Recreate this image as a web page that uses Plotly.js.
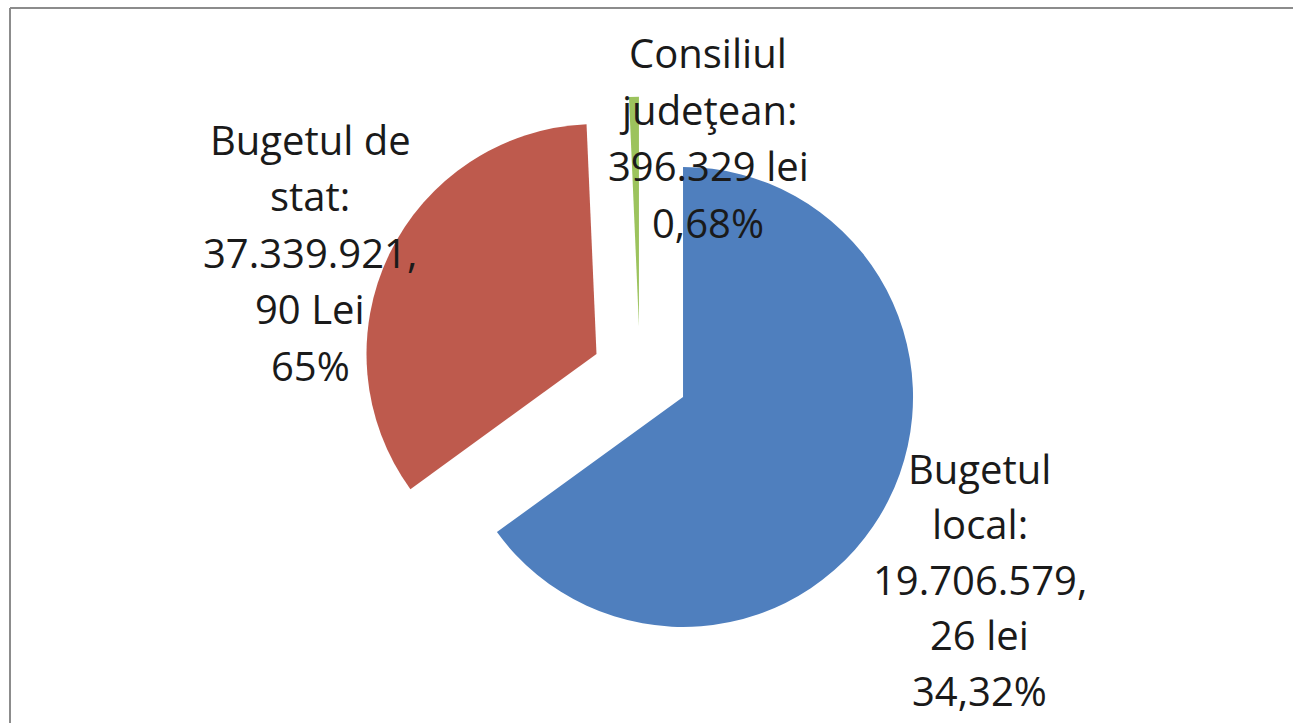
<!DOCTYPE html>
<html><head><meta charset="utf-8">
<script src="https://cdn.plot.ly/plotly-3.0.1.min.js"></script>
<style>html,body{margin:0;padding:0;background:#fff;}#chart{width:1293px;height:723px;}</style>
</head><body><div id="chart"></div>
<script>
// Slices in drawing order (clockwise from 12 o'clock): blue, red, green
const sliceNames = ['Bugetul de stat', 'Bugetul local', 'Consiliul judeţean'];
const sliceValues = [37339921.90, 19706579.26, 396329.00];
const sliceColors = ['#4F7FBE', '#BE5A4D', '#9CC35D'];

// Data label text as printed on the chart
const labelStat = ['Bugetul de', 'stat:', '37.339.921,', '90 Lei', '65%'];
const labelLocal = ['Bugetul', 'local:', '19.706.579,', '26 lei', '34,32%'];
const labelConsiliu = ['Consiliul', 'judeţean:', '396.329 lei', '0,68%'];

const W = 1293, H = 723;
const px = x => x / W;
const py = y => 1 - y / H;

const blocks = [
  {lines: labelStat, cx: 310, base: 153, step: 56.5},
  {lines: labelConsiliu, cx: 708, base: 67, step: 56.5},
  {lines: labelLocal, cx: 980, base: 482, step: 55.5}
];
const annotations = [];
blocks.forEach(b => {
  b.lines.forEach((t, i) => {
    annotations.push({
      text: t, xref: 'paper', yref: 'paper',
      x: px(b.cx), y: py(b.base + i * b.step - 14),
      xanchor: 'center', yanchor: 'middle', showarrow: false,
      font: {family: '"Open Sans", Lato, sans-serif', size: 40, color: '#1a1a1a'}
    });
  });
});

const trace = {
  type: 'pie',
  labels: sliceNames,
  values: sliceValues,
  marker: {colors: sliceColors, line: {width: 0}},
  sort: false,
  direction: 'clockwise',
  rotation: 0,
  pull: 0.21,
  textinfo: 'none',
  hoverinfo: 'label+value+percent',
  showlegend: false,
  domain: {x: [px(290), px(990)], y: [py(653.3), py(96.7)]}
};

const layout = {
  width: W, height: H,
  margin: {l: 0, r: 0, t: 0, b: 0},
  paper_bgcolor: '#ffffff',
  plot_bgcolor: '#ffffff',
  showlegend: false,
  annotations: annotations,
  shapes: [
    {type: 'line', xref: 'paper', yref: 'paper', x0: px(10), x1: 1, y0: py(8), y1: py(8), line: {color: '#8c8c8c', width: 2}},
    {type: 'line', xref: 'paper', yref: 'paper', x0: px(10), x1: px(10), y0: py(8), y1: 0, line: {color: '#8c8c8c', width: 2}}
  ]
};

Plotly.newPlot('chart', [trace], layout, {displayModeBar: false, staticPlot: true});
</script>
</body></html>
